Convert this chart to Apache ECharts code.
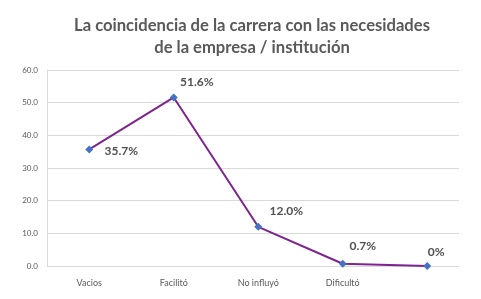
<!DOCTYPE html>
<html><head><meta charset="utf-8">
<script src="https://cdn.jsdelivr.net/npm/echarts@6/dist/echarts.min.js"></script>
<style>html,body{margin:0;padding:0;background:#fff}#c{width:481px;height:299px}</style>
</head><body><div id="c"></div>
<script>
var titleLines = ['La coincidencia de la carrera con las necesidades', 'de la empresa / institución'];
var categories = ['Vacios', 'Facilitó', 'No influyó', 'Dificultó', ''];
var values = [35.7, 51.6, 12.0, 0.7, 0];
var yMin = 0, yMax = 60, yStep = 10;

var labelOffsets = [[32, 2], [23, -15], [28, -16], [20, -18], [9, -14]];
var txt = '#595959';
var chart = echarts.init(document.getElementById('c'));
chart.setOption({
  animation: false,
  title: {
    text: titleLines.join('\n'), left: 247, textAlign: 'center', top: 10,
    textStyle: {fontFamily: 'Lato', fontWeight: 'bold', fontSize: 16.6, color: txt, lineHeight: 22}
  },
  grid: [
    {left: 47, right: 22, top: 70, bottom: 33},
    {left: 47, right: 11.5, top: 70, bottom: 33}
  ],
  xAxis: [
    {gridIndex: 0, type: 'category', data: categories, show: false},
    {gridIndex: 1, type: 'category', data: categories,
     axisLine: {show: false}, axisTick: {show: false},
     axisLabel: {color: txt, fontFamily: 'Lato', fontSize: 9, margin: 13}}
  ],
  yAxis: [
    {gridIndex: 0, type: 'value', min: yMin, max: yMax, interval: yStep,
     axisLine: {show: true, lineStyle: {color: '#d9d9d9'}}, axisTick: {show: false},
     splitLine: {lineStyle: {color: '#d9d9d9'}},
     axisLabel: {color: txt, fontFamily: 'Lato', fontSize: 8, margin: 9, formatter: function (v) { return v.toFixed(1); }}},
    {gridIndex: 1, type: 'value', min: yMin, max: yMax, interval: yStep, show: false}
  ],
  series: [{
    type: 'line', xAxisIndex: 1, yAxisIndex: 1,
    data: values.map(function (v, i) {
      return {value: v, label: {offset: labelOffsets[i]}};
    }),
    lineStyle: {color: '#7E2390', width: 2},
    itemStyle: {color: '#4472C4'},
    symbol: 'diamond', symbolSize: 8,
    label: {show: true, position: 'inside', color: '#505050', fontFamily: 'Lato', fontWeight: 'bold', fontSize: 12,
      formatter: function (p) { return p.value === 0 ? '0%' : p.value.toFixed(1) + '%'; }}
  }]
});
</script></body></html>
